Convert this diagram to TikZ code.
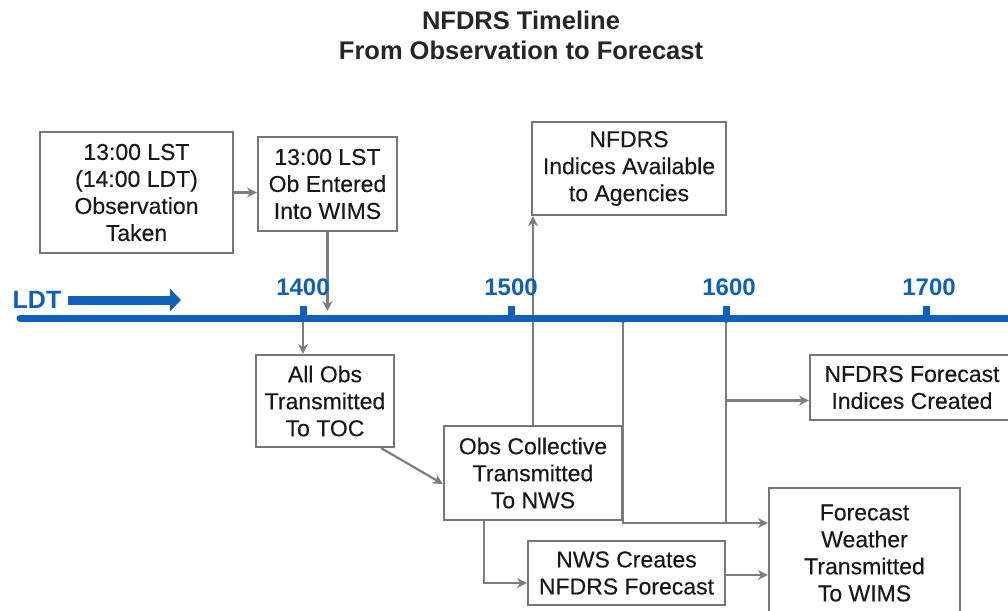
\documentclass[tikz,border=0pt]{standalone}
\usepackage{fontspec}
\setmainfont{Liberation Sans}
\newfontfamily\boxfont[FakeBold=0.3]{Liberation Sans}
\usetikzlibrary{arrows.meta,calc}
\definecolor{tlblue}{RGB}{16,96,184}
\definecolor{boxgray}{RGB}{118,118,118}
\definecolor{lngray}{RGB}{125,125,125}
\tikzset{
  box/.style={draw=boxgray, line width=2.2pt, fill=white, align=center, inner sep=0pt,
    font=\boxfont\fontsize{23}{27}\selectfont, text=black!90},
  conn/.style={draw=lngray, line width=2.2pt},
  arr/.style={conn, -{Stealth[length=10pt,width=10pt]}},
  yearlbl/.style={text=tlblue, font=\fontsize{24}{26}\selectfont\bfseries},
}
\begin{document}
\begin{tikzpicture}[x=1pt,y=-1pt]
\useasboundingbox (0,0) rectangle (1008,610);
\clip (0,0) rectangle (1008,610);
% title
\node[font=\fontsize{25.5}{30}\selectfont\bfseries, align=center, text=black!85] (title) at (521,35)
  {NFDRS Timeline\\From Observation to Forecast};
% boxes
\node[box, minimum width=193pt, minimum height=121pt] (A) at (136.5,192.5)
  {13:00 LST\\(14:00 LDT)\\Observation\\Taken};
\node[box, minimum width=139pt, minimum height=94pt] (B) at (327.5,184)
  {13:00 LST\\Ob Entered\\Into WIMS};
\node[box, minimum width=194pt, minimum height=93pt] (C) at (629,168.5)
  {NFDRS\\Indices Available\\to Agencies};
\node[box, minimum width=138pt, minimum height=92pt] (D) at (325,401)
  {All Obs\\Transmitted\\To TOC};
\node[box, minimum width=178pt, minimum height=94pt] (E) at (533,473)
  {Obs Collective\\Transmitted\\To NWS};
\node[box, minimum width=204pt, minimum height=65pt] (G) at (912,387.5)
  {NFDRS Forecast\\Indices Created};
\node[box, minimum width=191pt, minimum height=130pt] (F) at (864.5,553)
  {Forecast\\Weather\\Transmitted\\To WIMS};
\node[box, minimum width=197pt, minimum height=64pt] (H) at (626.5,573)
  {NWS Creates\\NFDRS Forecast};
% coordinates
\coordinate (tB) at (327.5,311);
\coordinate (t14) at (303,321);
\coordinate (j1) at (623,321);
\coordinate (j2) at (726,321);
\coordinate (fw) at ([yshift=30pt]F.west);
\coordinate (gw) at ([yshift=-13pt]G.west);
\coordinate (eS) at ([xshift=41pt]E.south west);
\coordinate (hw) at ([yshift=-10pt]H.west);
\coordinate (he) at ([yshift=-2pt]H.east);
% connectors
\draw[arr] (A.east) -- (B.west |- A.east);
\draw[arr] (B.south) -- (tB);
\draw[arr] (t14) -- (t14 |- D.north);
\draw[arr] ([xshift=-14pt]D.south east) -- ([yshift=-11pt]E.west);
\draw[arr] (E.north) -- (E.north |- C.south);
\draw[conn] (E.north) -- (E.north |- j1);
\draw[arr] (j1) |- (fw);
\draw[conn] (j2) -- (j2 |- fw);
\draw[arr] (j2 |- gw) -- (gw);
\draw[arr] (eS) |- (hw);
\draw[arr] (he) -- (F.west |- he);
% timeline
\draw[tlblue, line width=7pt, line cap=round] (20,318) -- (1015,318);
\foreach \x/\n in {303/t1400, 511/t1500, 726/t1600, 926/t1700}{
  \fill[tlblue] (\x-3.5,306) rectangle (\x+3.5,318);
}
\fill[tlblue] (533,319) circle (3pt);
\fill[tlblue] (623,320) circle (3pt);
\fill[tlblue] (726,320) circle (3pt);
\node[yearlbl] (y14) at (303,287) {1400};
\node[yearlbl] (y15) at (511,287) {1500};
\node[yearlbl] (y16) at (729,287) {1600};
\node[yearlbl] (y17) at (929,287) {1700};
% LDT arrow
\node[yearlbl, font=\fontsize{25}{26}\selectfont\bfseries] (ldt) at (37,300) {LDT};
\coordinate (ldtend) at (181,300);
\draw[tlblue, line width=9pt, -{Triangle[length=11pt,width=22pt]}] ([xshift=3pt]ldt.east) -- (ldtend);
\end{tikzpicture}
\end{document}
